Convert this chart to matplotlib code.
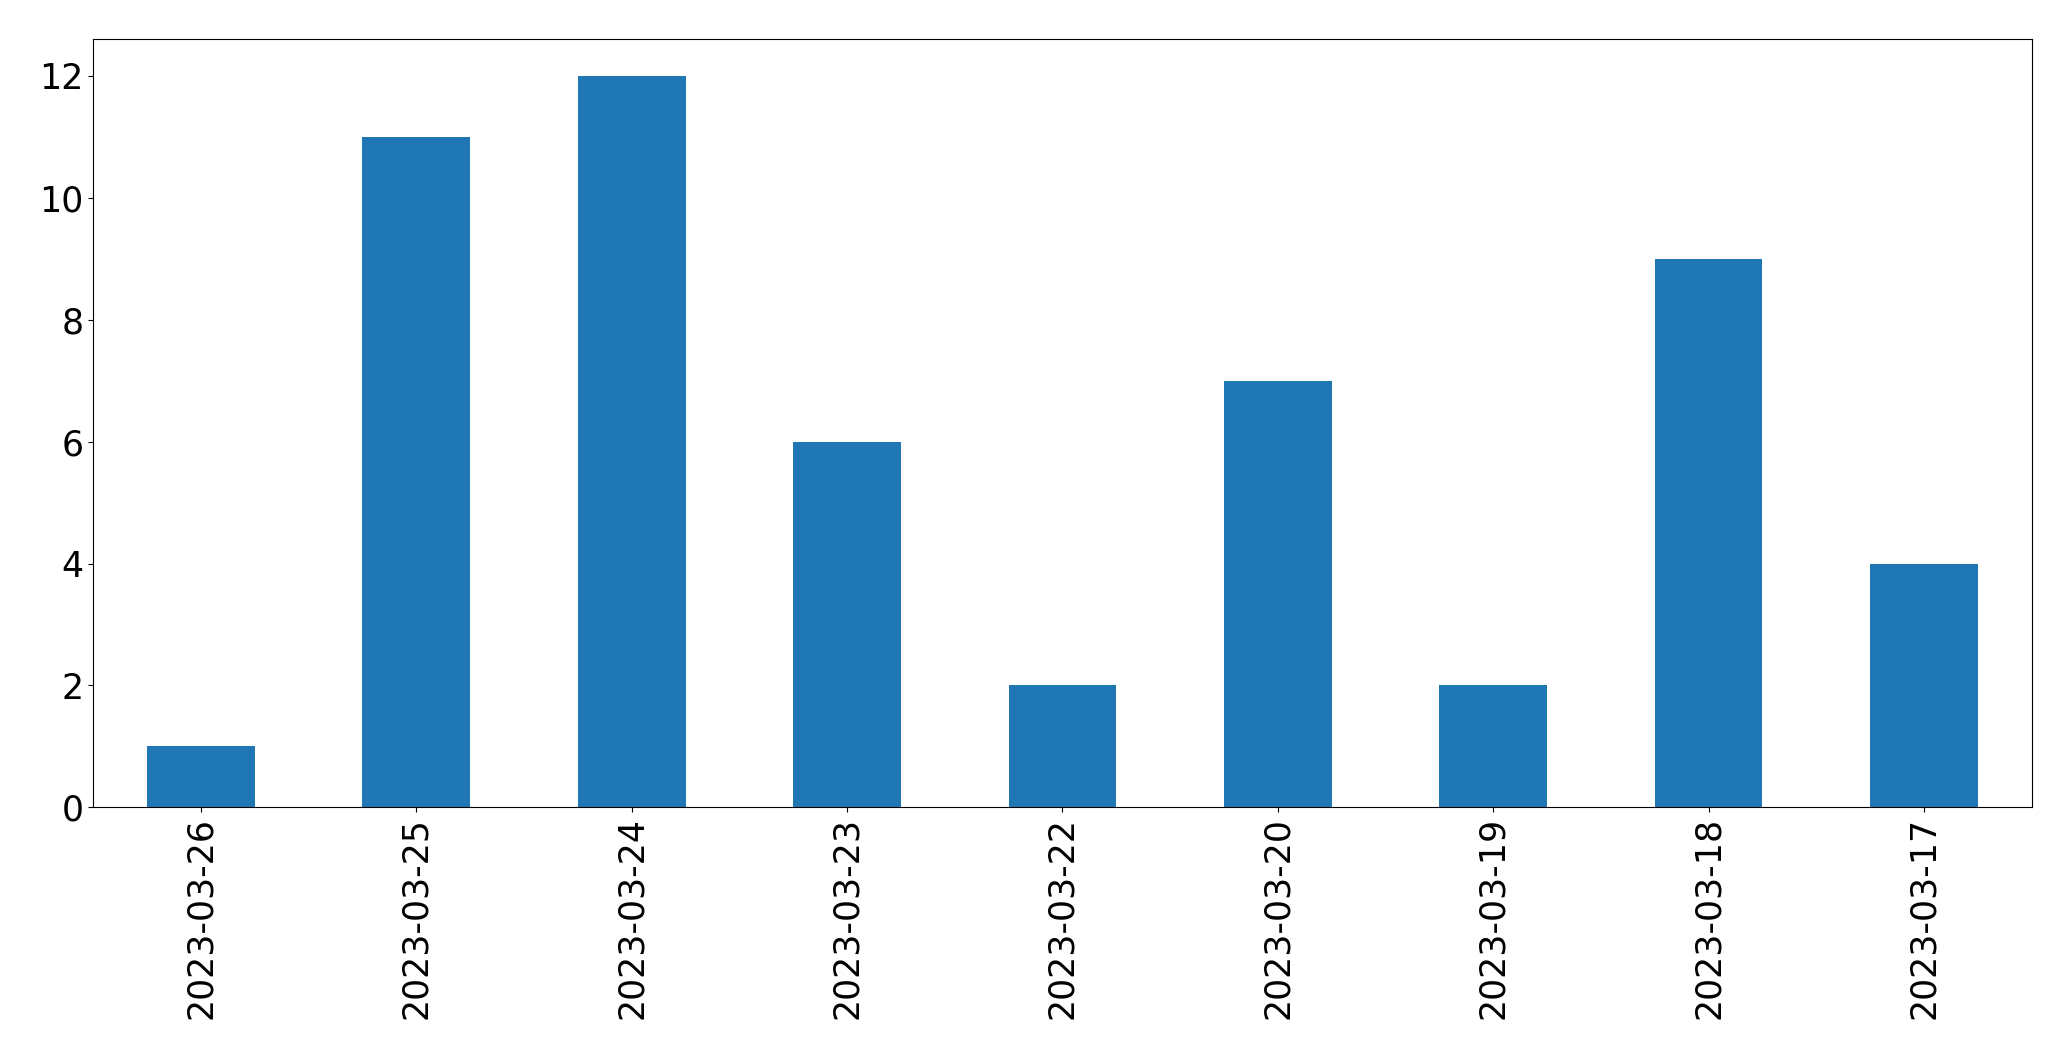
import matplotlib
matplotlib.use("Agg")
import matplotlib.pyplot as plt
import pandas as pd

dates = ['2023-03-26', '2023-03-25', '2023-03-24', '2023-03-23', '2023-03-22',
         '2023-03-20', '2023-03-19', '2023-03-18', '2023-03-17']
counts = [1, 11, 12, 6, 2, 7, 2, 9, 4]

s = pd.Series(counts, index=dates)

fig, ax = plt.subplots(figsize=(20.71, 10.61), dpi=100)
s.plot(kind='bar', ax=ax, color='#1f77b4', fontsize=25)
fig.subplots_adjust(left=0.045, right=0.981, top=0.963, bottom=0.239)
fig.savefig('out.png')
